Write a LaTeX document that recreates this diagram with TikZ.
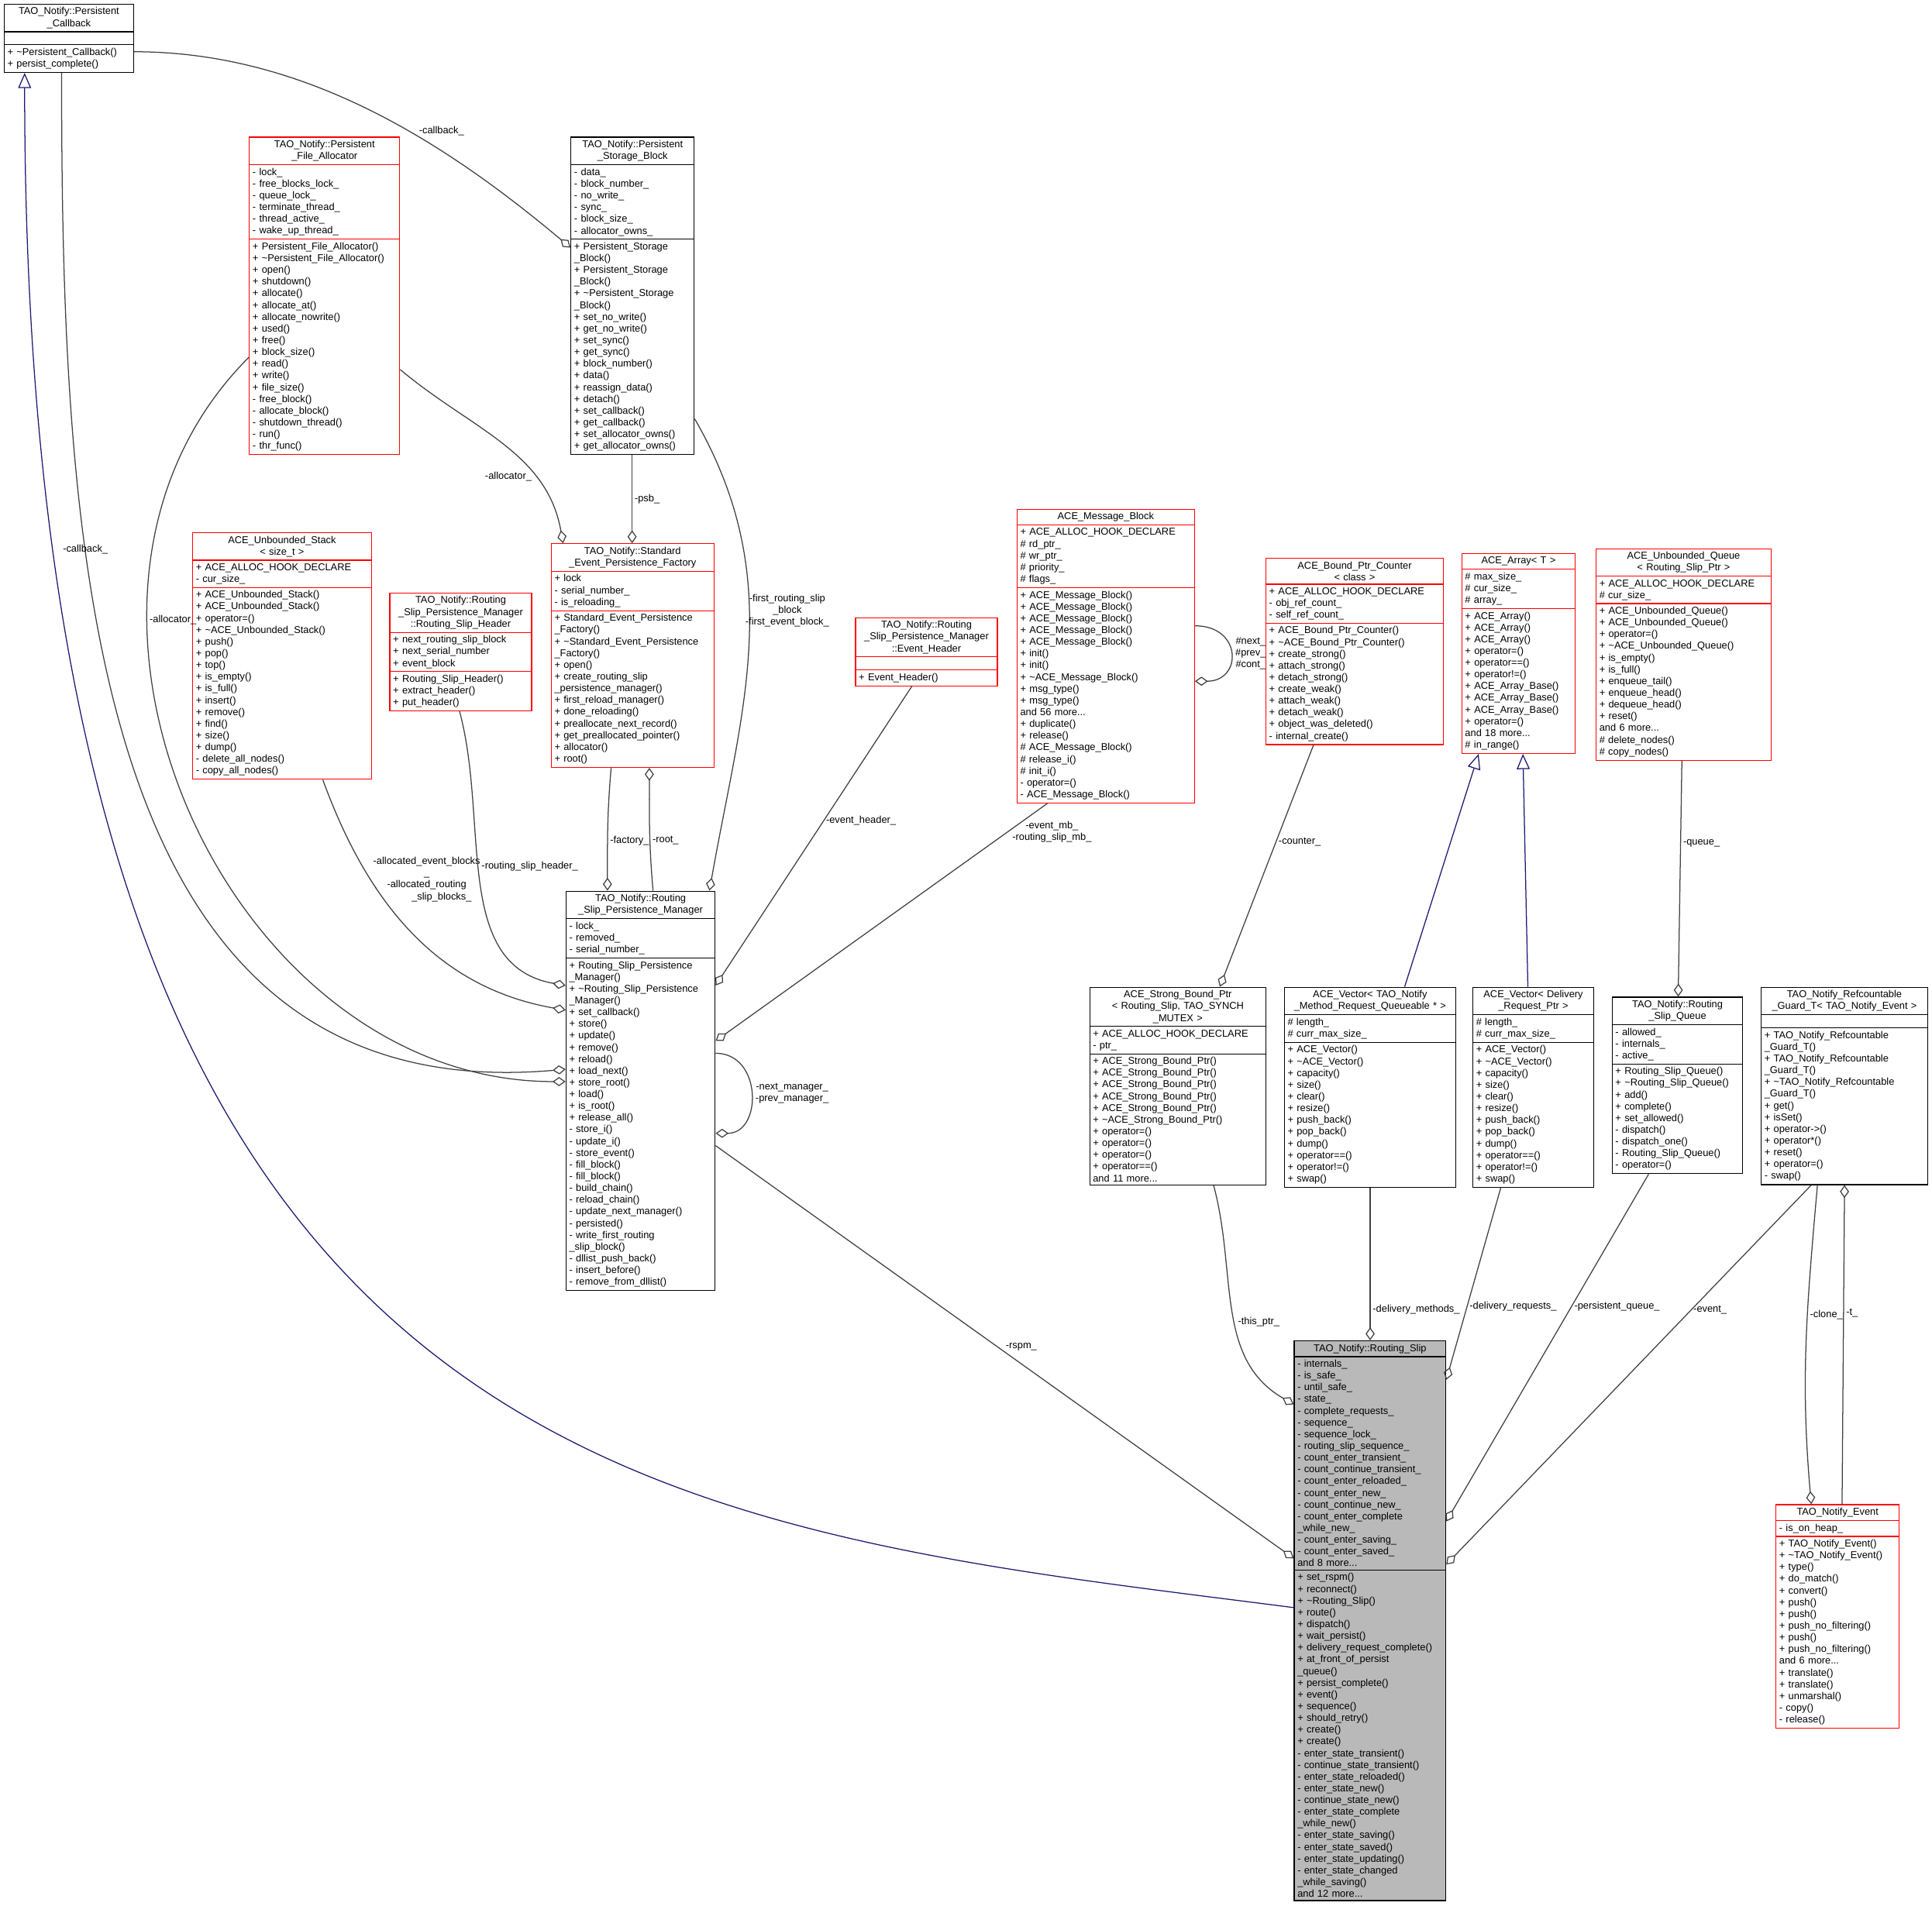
\documentclass[tikz,border=0pt]{standalone}
\usepackage{fontspec}
\setmainfont{Liberation Sans}
\usetikzlibrary{shapes.multipart,arrows.meta,calc,positioning}
\definecolor{inhblue}{HTML}{191970}
\newcommand{\tl}{\textasciitilde}
\newcommand{\nopart}{\rule{0pt}{3pt}}
\tikzset{
  classbox/.style={rectangle split, rectangle split parts=3, draw, align=left,
    inner xsep=1.5pt, inner ysep=1.3pt, line width=0.45pt,
    font=\fontsize{4.6}{5.42}\selectfont, anchor=north west},
  lbl/.style={font=\fontsize{4.6}{5.42}\selectfont, inner sep=1pt, align=center},
  assoc/.style={draw=black!75, line width=0.45pt, -{Diamond[open,length=6pt,width=4.2pt]}},
  inherit/.style={draw=inhblue, line width=0.45pt, -{Triangle[open,length=7pt,width=6pt]}}
}
% [extra style] name, x, y, width (px), colour, title, attributes, methods
\newcommand{\umlclass}[9][]{%
  \pgfmathsetlengthmacro\clw{0.02cm*#5-3pt}%
  \node[classbox,draw=#6,text width=\clw,#1] (#2) at (#3,#4)
    {\centering #7\par\nodepart{two}#8\nodepart{three}#9};}
\begin{document}
\catcode`\_=12
\begin{tikzpicture}[x=0.02cm,y=-0.02cm]
  \useasboundingbox (0,0) rectangle (1568,1547);
  %% classes
  \umlclass{PC}{3}{3}{105}{black}{TAO_Notify::Persistent\\_Callback}{\nopart}
    {+ \tl Persistent_Callback()\\+ persist_complete()}
  \umlclass{PFA}{202}{111}{122}{red}{TAO_Notify::Persistent\\_File_Allocator}
    {- lock_\\- free_blocks_lock_\\- queue_lock_\\- terminate_thread_\\- thread_active_\\- wake_up_thread_}
    {+ Persistent_File_Allocator()\\+ \tl Persistent_File_Allocator()\\+ open()\\+ shutdown()\\+ allocate()\\+ allocate_at()\\+ allocate_nowrite()\\+ used()\\+ free()\\+ block_size()\\+ read()\\+ write()\\+ file_size()\\- free_block()\\- allocate_block()\\- shutdown_thread()\\- run()\\- thr_func()}
  \umlclass{PSB}{463}{111}{100}{black}{TAO_Notify::Persistent\\_Storage_Block}
    {- data_\\- block_number_\\- no_write_\\- sync_\\- block_size_\\- allocator_owns_}
    {+ Persistent_Storage\\\_Block()\\+ Persistent_Storage\\\_Block()\\+ \tl Persistent_Storage\\\_Block()\\+ set_no_write()\\+ get_no_write()\\+ set_sync()\\+ get_sync()\\+ block_number()\\+ data()\\+ reassign_data()\\+ detach()\\+ set_callback()\\+ get_callback()\\+ set_allocator_owns()\\+ get_allocator_owns()}
  \umlclass{US}{156}{432}{145}{red}{ACE_Unbounded_Stack\\< size_t >}
    {+ ACE_ALLOC_HOOK_DECLARE\\- cur_size_}
    {+ ACE_Unbounded_Stack()\\+ ACE_Unbounded_Stack()\\+ operator=()\\+ \tl ACE_Unbounded_Stack()\\+ push()\\+ pop()\\+ top()\\+ is_empty()\\+ is_full()\\+ insert()\\+ remove()\\+ find()\\+ size()\\+ dump()\\- delete_all_nodes()\\- copy_all_nodes()}
  \umlclass{RSH}{316}{481}{115}{red}{TAO_Notify::Routing\\_Slip_Persistence_Manager\\::Routing_Slip_Header}
    {+ next_routing_slip_block\\+ next_serial_number\\+ event_block}
    {+ Routing_Slip_Header()\\+ extract_header()\\+ put_header()}
  \umlclass{SEPF}{447}{441}{132}{red}{TAO_Notify::Standard\\_Event_Persistence_Factory}
    {+ lock\\- serial_number_\\- is_reloading_}
    {+ Standard_Event_Persistence\\\_Factory()\\+ \tl Standard_Event_Persistence\\\_Factory()\\+ open()\\+ create_routing_slip\\\_persistence_manager()\\+ first_reload_manager()\\+ done_reloading()\\+ preallocate_next_record()\\+ get_preallocated_pointer()\\+ allocator()\\+ root()}
  \umlclass{EH}{694}{501}{115}{red}{TAO_Notify::Routing\\_Slip_Persistence_Manager\\::Event_Header}{\nopart}
    {+ Event_Header()}
  \umlclass{MB}{825}{413}{144}{red}{ACE_Message_Block}
    {+ ACE_ALLOC_HOOK_DECLARE\\\# rd_ptr_\\\# wr_ptr_\\\# priority_\\\# flags_}
    {+ ACE_Message_Block()\\+ ACE_Message_Block()\\+ ACE_Message_Block()\\+ ACE_Message_Block()\\+ ACE_Message_Block()\\+ init()\\+ init()\\+ \tl ACE_Message_Block()\\+ msg_type()\\+ msg_type()\\and 56 more...\\+ duplicate()\\+ release()\\\# ACE_Message_Block()\\\# release_i()\\\# init_i()\\- operator=()\\- ACE_Message_Block()}
  \umlclass{BPC}{1027}{453}{144}{red}{ACE_Bound_Ptr_Counter\\< class >}
    {+ ACE_ALLOC_HOOK_DECLARE\\- obj_ref_count_\\- self_ref_count_}
    {+ ACE_Bound_Ptr_Counter()\\+ \tl ACE_Bound_Ptr_Counter()\\+ create_strong()\\+ attach_strong()\\+ detach_strong()\\+ create_weak()\\+ attach_weak()\\+ detach_weak()\\+ object_was_deleted()\\- internal_create()}
  \umlclass{AR}{1186}{449}{92}{red}{ACE_Array< T >}
    {\# max_size_\\\# cur_size_\\\# array_}
    {+ ACE_Array()\\+ ACE_Array()\\+ ACE_Array()\\+ operator=()\\+ operator==()\\+ operator!=()\\+ ACE_Array_Base()\\+ ACE_Array_Base()\\+ ACE_Array_Base()\\+ operator=()\\and 18 more...\\\# in_range()}
  \umlclass{UQ}{1295}{445}{142}{red}{ACE_Unbounded_Queue\\< Routing_Slip_Ptr >}
    {+ ACE_ALLOC_HOOK_DECLARE\\\# cur_size_}
    {+ ACE_Unbounded_Queue()\\+ ACE_Unbounded_Queue()\\+ operator=()\\+ \tl ACE_Unbounded_Queue()\\+ is_empty()\\+ is_full()\\+ enqueue_tail()\\+ enqueue_head()\\+ dequeue_head()\\+ reset()\\and 6 more...\\\# delete_nodes()\\\# copy_nodes()}
  \umlclass{RSPM}{459}{723}{121}{black}{TAO_Notify::Routing\\_Slip_Persistence_Manager}
    {- lock_\\- removed_\\- serial_number_}
    {+ Routing_Slip_Persistence\\\_Manager()\\+ \tl Routing_Slip_Persistence\\\_Manager()\\+ set_callback()\\+ store()\\+ update()\\+ remove()\\+ reload()\\+ load_next()\\+ store_root()\\+ load()\\+ is_root()\\+ release_all()\\- store_i()\\- update_i()\\- store_event()\\- fill_block()\\- fill_block()\\- build_chain()\\- reload_chain()\\- update_next_manager()\\- persisted()\\- write_first_routing\\\_slip_block()\\- dllist_push_back()\\- insert_before()\\- remove_from_dllist()}
  \umlclass{SBP}{884}{801}{143}{black}{ACE_Strong_Bound_Ptr\\< Routing_Slip, TAO_SYNCH\\_MUTEX >}
    {+ ACE_ALLOC_HOOK_DECLARE\\- ptr_}
    {+ ACE_Strong_Bound_Ptr()\\+ ACE_Strong_Bound_Ptr()\\+ ACE_Strong_Bound_Ptr()\\+ ACE_Strong_Bound_Ptr()\\+ ACE_Strong_Bound_Ptr()\\+ \tl ACE_Strong_Bound_Ptr()\\+ operator=()\\+ operator=()\\+ operator=()\\+ operator==()\\and 11 more...}
  \umlclass{VM}{1042}{801}{139}{black}{ACE_Vector< TAO_Notify\\_Method_Request_Queueable * >}
    {\# length_\\\# curr_max_size_}
    {+ ACE_Vector()\\+ \tl ACE_Vector()\\+ capacity()\\+ size()\\+ clear()\\+ resize()\\+ push_back()\\+ pop_back()\\+ dump()\\+ operator==()\\+ operator!=()\\+ swap()}
  \umlclass{VD}{1195}{801}{98}{black}{ACE_Vector< Delivery\\_Request_Ptr >}
    {\# length_\\\# curr_max_size_}
    {+ ACE_Vector()\\+ \tl ACE_Vector()\\+ capacity()\\+ size()\\+ clear()\\+ resize()\\+ push_back()\\+ pop_back()\\+ dump()\\+ operator==()\\+ operator!=()\\+ swap()}
  \umlclass{RSQ}{1308}{809}{106}{black}{TAO_Notify::Routing\\_Slip_Queue}
    {- allowed_\\- internals_\\- active_}
    {+ Routing_Slip_Queue()\\+ \tl Routing_Slip_Queue()\\+ add()\\+ complete()\\+ set_allowed()\\- dispatch()\\- dispatch_one()\\- Routing_Slip_Queue()\\- operator=()}
  \umlclass{RG}{1429}{801}{135}{black}{TAO_Notify_Refcountable\\_Guard_T< TAO_Notify_Event >}{\nopart}
    {+ TAO_Notify_Refcountable\\\_Guard_T()\\+ TAO_Notify_Refcountable\\\_Guard_T()\\+ \tl TAO_Notify_Refcountable\\\_Guard_T()\\+ get()\\+ isSet()\\+ operator->()\\+ operator*()\\+ reset()\\+ operator=()\\- swap()}
  \umlclass{EV}{1441}{1221}{100}{red}{TAO_Notify_Event}
    {- is_on_heap_}
    {+ TAO_Notify_Event()\\+ \tl TAO_Notify_Event()\\+ type()\\+ do_match()\\+ convert()\\+ push()\\+ push()\\+ push_no_filtering()\\+ push()\\+ push_no_filtering()\\and 6 more...\\+ translate()\\+ translate()\\+ unmarshal()\\- copy()\\- release()}
  \umlclass[rectangle split part fill={gray!55}]{RS}{1050}{1088}{123}{black}{TAO_Notify::Routing_Slip}
    {- internals_\\- is_safe_\\- until_safe_\\- state_\\- complete_requests_\\- sequence_\\- sequence_lock_\\- routing_slip_sequence_\\- count_enter_transient_\\- count_continue_transient_\\- count_enter_reloaded_\\- count_enter_new_\\- count_continue_new_\\- count_enter_complete\\\_while_new_\\- count_enter_saving_\\- count_enter_saved_\\and 8 more...}
    {+ set_rspm()\\+ reconnect()\\+ \tl Routing_Slip()\\+ route()\\+ dispatch()\\+ wait_persist()\\+ delivery_request_complete()\\+ at_front_of_persist\\\_queue()\\+ persist_complete()\\+ event()\\+ sequence()\\+ should_retry()\\+ create()\\+ create()\\- enter_state_transient()\\- continue_state_transient()\\- enter_state_reloaded()\\- enter_state_new()\\- continue_state_new()\\- enter_state_complete\\\_while_new()\\- enter_state_saving()\\- enter_state_saved()\\- enter_state_updating()\\- enter_state_changed\\\_while_saving()\\and 12 more...}
  %% inheritance
  \draw[inherit] ($(RS.north west)+(0,217)$) .. controls ($(RS.north west)+(-520,150)$)
    and ($(PC.south west)+(17,1150)$) .. ($(PC.south west)+(17,0)$);
  \draw[inherit] ($(VM.north west)+(98,0)$) -- ($(AR.south west)+(14,0)$);
  \draw[inherit] ($(VD.north west)+(45,0)$) -- ($(AR.south west)+(50,0)$);
  %% members
  \draw[assoc] ($(PC.south west)+(47,0)$) to[out=-90,in=185,looseness=1.1]
    node[lbl,pos=0.33] {-callback_} ($(RSPM.north west)+(0,145)$);
  \draw[assoc] ($(PFA.north west)+(0,179)$) to[out=225,in=180,looseness=1.1]
    node[lbl,pos=0.3,right] {-allocator_} ($(RSPM.north west)+(0,155)$);
  \draw[assoc] ($(PC.north east)+(0,39)$) to[out=0,in=140,looseness=0.9]
    node[lbl,pos=0.62,above right=-1pt] {-callback_} ($(PSB.north west)+(0,90)$);
  \draw[assoc] ($(PFA.north east)+(0,189)$) to[out=-40,in=100]
    node[lbl,pos=0.7,left] {-allocator_} ($(SEPF.north west)+(10,0)$);
  \draw[assoc] ($(PSB.south west)+(50,0)$) --
    node[lbl,right] {-psb_} ($(SEPF.north west)+(66,0)$);
  \draw[assoc] ($(PSB.north east)+(0,229)$) to[out=-60,in=80]
    node[lbl,pos=0.42,right=-3pt] {-first_routing_slip\\_block\\-first_event_block_} ($(RSPM.north east)+(-5,0)$);
  \draw[assoc] ($(SEPF.south west)+(49,0)$) to[out=-95,in=90]
    node[lbl,pos=0.6,right] {-factory_} ($(RSPM.north west)+(34,0)$);
  \draw[assoc] ($(RSPM.north west)+(71,0)$) to[out=95,in=-90]
    node[lbl,pos=0.4,right] {-root_} ($(SEPF.south west)+(80,0)$);
  \draw[assoc] ($(US.south west)+(106,0)$) to[out=-70,in=170]
    node[lbl,pos=0.3,right] {-allocated_event_blocks\\_\\-allocated_routing\\\hspace{3em}_slip_blocks_} ($(RSPM.north west)+(0,97)$);
  \draw[assoc] ($(RSH.south west)+(57,0)$) to[out=-75,in=170]
    node[lbl,pos=0.45,right] {-routing_slip_header_} ($(RSPM.north west)+(0,77)$);
  \draw[assoc] ($(EH.south west)+(46,0)$) --
    node[lbl,pos=0.45,right] {-event_header_} ($(RSPM.north east)+(0,77)$);
  \draw[assoc] ($(MB.south west)+(25,0)$) --
    node[lbl,pos=0.12,right=1pt] {-event_mb_\\-routing_slip_mb_} ($(RSPM.north east)+(0,122)$);
  \draw[assoc] ($(MB.north east)+(0,95)$) to[out=0,in=0,looseness=2.2]
    node[lbl,right=1pt] {\#next_\\\#prev_\\\#cont_} ($(MB.north east)+(0,140)$);
  \draw[assoc] ($(RSPM.north east)+(0,132)$) to[out=0,in=0,looseness=1.5]
    node[lbl,right=1pt] {-next_manager_\\-prev_manager_} ($(RSPM.north east)+(0,197)$);
  \draw[assoc] ($(BPC.south west)+(39,0)$) --
    node[lbl,pos=0.4,right] {-counter_} ($(SBP.north west)+(106,0)$);
  \draw[assoc] ($(UQ.south west)+(70,0)$) --
    node[lbl,pos=0.35,right] {-queue_} ($(RSQ.north west)+(54,0)$);
  \draw[assoc] ($(RSPM.north east)+(0,207)$) --
    node[lbl,pos=0.5,above right=-1pt] {-rspm_} ($(RS.north west)+(0,177)$);
  \draw[assoc] ($(SBP.south west)+(101,0)$) to[out=-75,in=150]
    node[lbl,pos=0.55,right] {-this_ptr_} ($(RS.north west)+(0,52)$);
  \draw[assoc] ($(VM.south west)+(70,0)$) --
    node[lbl,pos=0.8,right] {-delivery_methods_} ($(RS.north west)+(62,0)$);
  \draw[assoc] ($(VD.south west)+(23,0)$) --
    node[lbl,pos=0.62,right] {-delivery_requests_} ($(RS.north east)+(0,32)$);
  \draw[assoc] ($(RSQ.south west)+(30,0)$) --
    node[lbl,pos=0.38,right] {-persistent_queue_} ($(RS.north east)+(0,147)$);
  \draw[assoc] ($(RG.south west)+(41,0)$) --
    node[lbl,pos=0.33,right] {-event_} ($(RS.north east)+(0,182)$);
  \draw[assoc] ($(RG.south west)+(46,0)$) to[out=-95,in=95]
    node[lbl,pos=0.4,right] {-clone_} ($(EV.north west)+(29,0)$);
  \draw[assoc] ($(EV.north west)+(54,0)$) --
    node[lbl,pos=0.6,right] {-t_} ($(RG.south west)+(68,0)$);
\end{tikzpicture}
\end{document}
